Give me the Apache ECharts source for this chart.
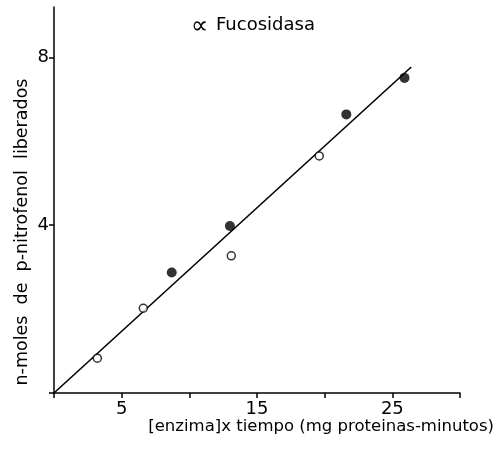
<!DOCTYPE html>
<html>
<head>
<meta charset="utf-8">
<script src="https://cdn.jsdelivr.net/npm/echarts@6/dist/echarts.min.js"></script>
<style>
  html, body { margin: 0; padding: 0; background: #fff; }
  #chart { width: 496px; height: 450px; }
</style>
</head>
<body>
<div id="chart"></div>
<script>
// Enzyme activity: p-nitrophenol released vs [enzyme] x time
const openPoints = [[3.2, 0.83], [6.6, 2.02], [13.1, 3.27], [19.6, 5.65]];
const filledPoints = [[8.7, 2.87], [13.0, 3.98], [21.6, 6.64], [25.9, 7.51]];
const fitLine = [[0, 0], [26.4, 7.77]];
const xLabels = [5, 15, 25];
const yLabels = [4, 8];

const titleSymbol = '\u221d';
const titleText = 'Fucosidasa';
const xName = '[enzima]x tiempo (mg proteinas-minutos)';
const yName = 'n-moles  de  p-nitrofenol  liberados';

const FONT = '"DejaVu Sans", sans-serif';
const INK = '#000';

const chart = echarts.init(document.getElementById('chart'), null, { renderer: 'canvas' });
chart.setOption({
  animation: false,
  backgroundColor: '#fff',
  grid: { left: 54, right: 36, top: 7, bottom: 57 },
  xAxis: {
    type: 'value', min: 0, max: 30, interval: 5,
    axisLine: { lineStyle: { color: INK, width: 1.5 } },
    axisTick: { show: true, length: 5, lineStyle: { color: INK, width: 1.5 } },
    splitLine: { show: false },
    axisLabel: {
      color: INK, fontFamily: FONT, fontSize: 18, margin: 7,
      formatter: v => (xLabels.includes(v) ? String(v) : '')
    }
  },
  yAxis: {
    type: 'value', min: 0, max: 9.2, interval: 4,
    axisLine: { lineStyle: { color: INK, width: 1.5 } },
    axisTick: { show: true, length: 5, lineStyle: { color: INK, width: 1.5 } },
    splitLine: { show: false },
    axisLabel: {
      color: INK, fontFamily: FONT, fontSize: 18, margin: 5,
      showMaxLabel: false,
      formatter: v => (yLabels.includes(v) ? String(v) : '')
    }
  },
  series: [
    {
      type: 'line', data: fitLine, symbol: 'none', silent: true,
      lineStyle: { color: INK, width: 1.6 }, z: 2
    },
    {
      type: 'scatter', data: openPoints, symbol: 'circle', symbolSize: 8,
      itemStyle: { color: '#fff', borderColor: INK, borderWidth: 1.5 }, z: 3
    },
    {
      type: 'scatter', data: filledPoints, symbol: 'circle', symbolSize: 10,
      itemStyle: { color: INK }, z: 3
    }
  ],
  graphic: [
    {
      type: 'text', left: 191, top: 15,
      style: { text: titleSymbol, font: '24px ' + FONT, fill: INK }
    },
    {
      type: 'text', left: 216, top: 16,
      style: { text: titleText, font: '18px ' + FONT, fill: INK }
    },
    {
      type: 'text', right: 2, top: 418,
      style: { text: xName, font: '16.5px ' + FONT, fill: INK }
    },
    {
      type: 'text', x: 22, y: 232, rotation: Math.PI / 2,
      style: { text: yName, font: '17.5px ' + FONT, fill: INK, align: 'center', verticalAlign: 'middle' }
    }
  ]
});
</script>
</body>
</html>
